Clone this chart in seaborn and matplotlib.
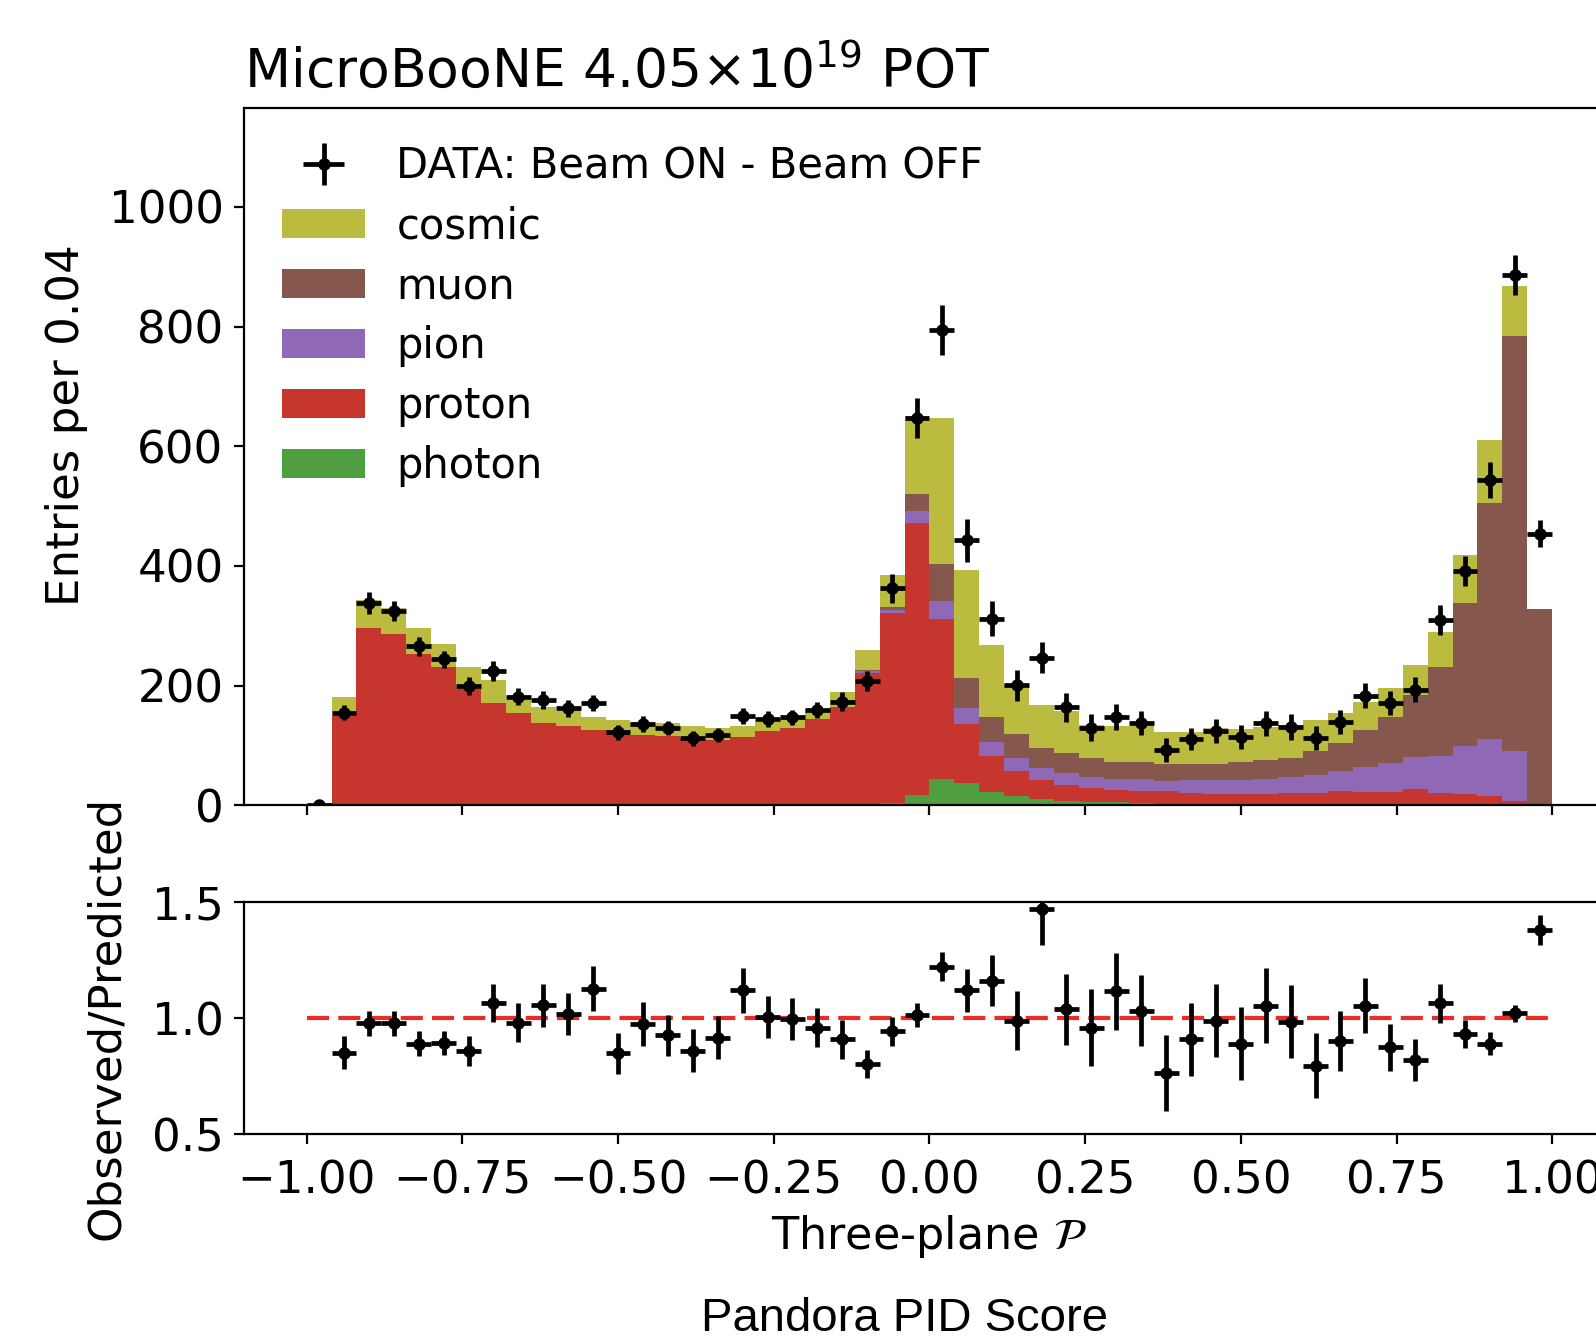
import numpy as np
import pandas as pd
import matplotlib
matplotlib.use("Agg")
import matplotlib.pyplot as plt
from matplotlib.patches import Patch
import seaborn as sns

# ---------------- data ----------------
n_bins = 50
x_range = (-1.0, 1.0)                           # 50 bins of width 0.04
components = ["cosmic", "muon", "pion", "proton", "photon"]

photon = [0] * 22 + [1, 4, 17, 45, 37, 22, 15, 10, 8, 6, 5, 4, 3, 3, 2, 2, 2, 2,
                     1, 1, 1, 1, 1, 1, 0, 0, 0, 0]
proton = [0, 149, 297, 286, 253, 232, 194, 171, 154, 138, 132, 126, 126, 118, 116,
          111, 109, 114, 125, 129, 144, 164, 220, 317, 455, 266, 99, 60, 43, 33,
          26, 23, 21, 20, 21, 18, 18, 18, 18, 19, 20, 23, 22, 22, 26, 20, 20, 16, 8, 0]
pion = [0] * 22 + [3, 5, 20, 31, 26, 23.5, 22, 19.4, 21, 19, 19, 19.4, 17, 22, 22.6,
                   23, 24.6, 27, 30, 33, 42, 47.5, 53.5, 61.6, 79, 94.5, 83.5, 3]
muon = [0] * 22 + [2, 5, 28.4, 61, 51, 42, 39, 33.5, 32, 31, 28, 28.6, 28, 27, 27.4,
                   29.4, 32, 31, 40.5, 47, 61, 76.5, 104, 149, 239.6, 395, 692, 324.5]
cosmic = [0, 32, 46, 44, 44, 38, 37, 39, 22, 27, 25, 22, 16, 22, 21, 21, 20, 19, 15,
          15, 17, 26, 33, 54, 130, 245, 181, 121, 84, 72, 71, 56, 59, 60, 53, 52, 59,
          56, 55, 55, 51, 50, 47, 49, 50, 58, 79, 105, 85, 0]

data_vals = [0, 155, 338, 325, 266, 244, 200, 225, 182, 176, 162, 171, 122, 136, 129,
             112, 118, 149, 144, 147, 159, 173, 208, 363, 647, 794, 443, 312, 201, 247,
             164, 130, 148, 137, 93, 111, 125, 114, 137, 131, 112, 140, 183, 171, 193,
             310, 392, 543, 886, 454]
data_errs = [3, 13, 18, 17, 16, 14, 15, 17, 15, 15, 14, 14, 12, 13, 12, 12, 12, 13, 13,
             13, 13, 16, 16, 24, 33, 42, 36, 29, 26, 26, 24, 22, 22, 20, 20, 19, 20, 20,
             21, 21, 20, 20, 21, 20, 21, 25, 25, 30, 34, 22]

ratio_vals = [0.851, 0.977, 0.977, 0.89, 0.893, 0.859, 1.066, 0.98, 1.055, 1.017,
              1.127, 0.848, 0.974, 0.925, 0.859, 0.916, 1.12, 1.005, 0.997, 0.959,
              0.908, 0.802, 0.943, 1.012, 1.222, 1.12, 1.161, 0.989, 1.469, 1.038,
              0.959, 1.115, 1.031, 0.764, 0.908, 0.989, 0.89, 1.054, 0.985, 0.794,
              0.9, 1.054, 0.874, 0.82, 1.063, 0.931, 0.89, 1.02, 1.38]
ratio_errs = [0.072, 0.054, 0.053, 0.054, 0.053, 0.065, 0.083, 0.084, 0.094, 0.092,
              0.097, 0.088, 0.094, 0.09, 0.092, 0.092, 0.097, 0.092, 0.09, 0.084,
              0.084, 0.061, 0.063, 0.051, 0.063, 0.092, 0.109, 0.128, 0.153, 0.153,
              0.165, 0.167, 0.153, 0.165, 0.157, 0.159, 0.157, 0.161, 0.157, 0.14,
              0.129, 0.12, 0.102, 0.09, 0.086, 0.059, 0.05, 0.035, 0.065]

colors = {"cosmic": "#bbbb40", "muon": "#85574d", "pion": "#8f68b6",
          "proton": "#c7352f", "photon": "#4f9e40"}

# ---------------- figure ----------------
sns.set_style("ticks")
plt.rcParams["font.family"] = ["DejaVu Sans"]
plt.rcParams["mathtext.fontset"] = "dejavusans"
for key in ("text.color", "axes.labelcolor", "xtick.color", "ytick.color",
            "axes.edgecolor"):
    plt.rcParams[key] = "black"

fig = plt.figure(figsize=(15.96, 13.40), dpi=100)
ax = fig.add_axes([0.1531, 0.3989, 0.8585, 0.5205])
ax2 = fig.add_axes([0.1531, 0.1537, 0.8585, 0.1731])

bin_edges = np.linspace(x_range[0], x_range[1], n_bins + 1)
centers = 0.5 * (bin_edges[:-1] + bin_edges[1:])
half_w = 0.5 * (bin_edges[1] - bin_edges[0])
series = {"cosmic": cosmic, "muon": muon, "pion": pion, "proton": proton, "photon": photon}
df = pd.concat([pd.DataFrame({"x": centers, "w": np.asarray(series[c], float), "comp": c})
                for c in components], ignore_index=True)

sns.histplot(data=df, x="x", weights="w", hue="comp", hue_order=components,
             multiple="stack", bins=n_bins, binrange=x_range, palette=colors,
             alpha=1.0, linewidth=0, legend=False, ax=ax)

eb = ax.errorbar(centers, data_vals, xerr=half_w, yerr=data_errs, fmt="o", color="black",
                 ms=8, elinewidth=3.4, capsize=0, zorder=5)

ax.set_xlim(-1.1, 1.1)
ax.set_ylim(0, 1165)
ax.set_yticks([0, 200, 400, 600, 800, 1000])
ax.set_xticks([-1.0, -0.75, -0.5, -0.25, 0.0, 0.25, 0.5, 0.75, 1.0])
ax.tick_params(axis="x", labelbottom=False)
ax.set_xlabel("")
ax.set_ylabel("")

handles = [eb] + [Patch(facecolor=colors[c], edgecolor="none") for c in components]
labels = ["DATA: Beam ON - Beam OFF"] + components
ax.legend(handles, labels, loc="upper left", frameon=False, fontsize=30,
          labelspacing=0.43, handlelength=2.0, handletextpad=0.75)

ax.set_title(r"MicroBooNE 4.05$\times$10$^{19}$ POT", loc="left", fontsize=38.5, pad=15)

# ratio panel
ax2.plot([-1.0, 1.0], [1.0, 1.0], color="#ea2b26", lw=3, dashes=(5.3, 2.2), zorder=2)
ax2.errorbar(centers[1:], ratio_vals, xerr=half_w, yerr=ratio_errs, fmt="o", color="black",
             ms=8, elinewidth=3.4, capsize=0, zorder=5)
ax2.set_xlim(-1.1, 1.1)
ax2.set_ylim(0.5, 1.5)
ax2.set_yticks([0.5, 1.0, 1.5])
ax2.set_xticks([-1.0, -0.75, -0.5, -0.25, 0.0, 0.25, 0.5, 0.75, 1.0])

for a in (ax, ax2):
    for s in a.spines.values():
        s.set_linewidth(1.6)
        s.set_visible(True)
    a.tick_params(direction="out", length=7, width=1.6, labelsize=32.5,
                  top=False, right=False)
    a.tick_params(axis="y", pad=8)
    a.tick_params(axis="x", pad=11)

fig.text(0.0414, 0.6828, "Entries per 0.04", rotation=90, ha="center", va="center",
         fontsize=32.5)
fig.text(0.067, 0.2403, "Observed/Predicted", rotation=90, ha="center", va="center",
         fontsize=32.5)
fig.text(0.582, 0.0769, r"Three-plane $\mathcal{P}$", ha="center", va="center",
         fontsize=32)
fig.text(0.567, 0.0067, "Pandora PID Score", ha="center", va="baseline",
         fontsize=34, family=["Liberation Sans"])

fig.savefig("out.png", dpi=100)
